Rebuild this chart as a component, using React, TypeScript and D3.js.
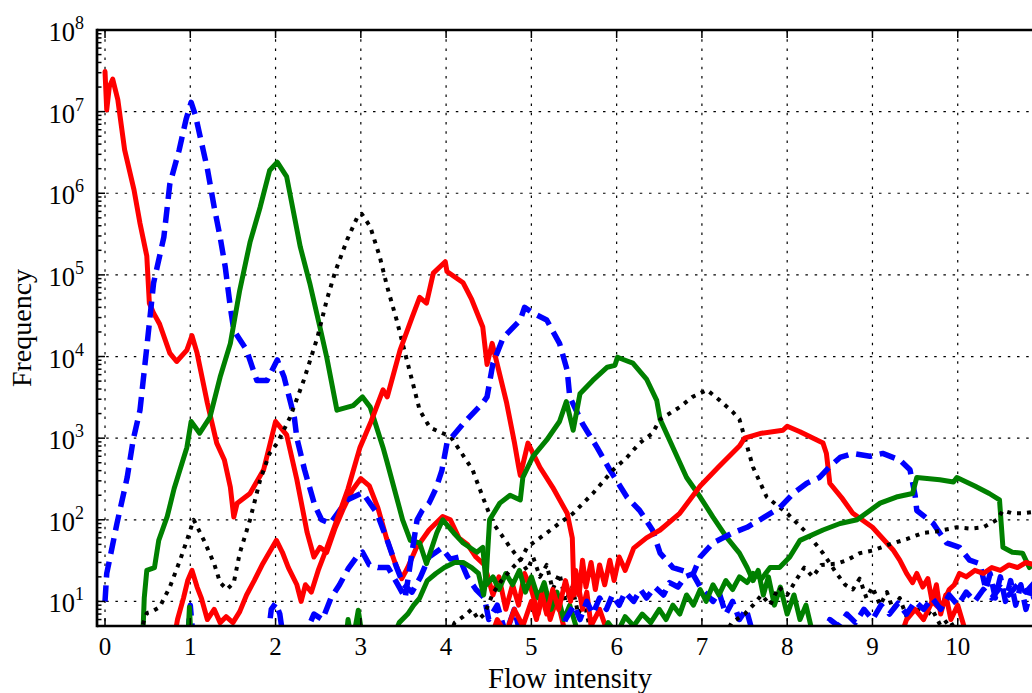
import React from 'react'
import * as d3 from 'd3'

type Pt = [number, number]

// axis ticks
const xTickValues = [0, 1, 2, 3, 4, 5, 6, 7, 8, 9, 10]
const yExponents = [1, 2, 3, 4, 5, 6, 7, 8]

// histogram curves: [flow intensity, frequency]
const red0: Pt[] = [[0, 3.1e7], [0.02, 1.05e7], [0.05, 2.0e7], [0.09, 2.5e7], [0.15, 1.4e7], [0.23, 3.4e6], [0.34, 1.1e6], [0.41, 4.3e5], [0.49, 1.7e5], [0.52, 4.5e4], [0.57, 3.4e4], [0.64, 2.5e4], [0.76, 1.1e4], [0.84, 8.7e3], [0.96, 1.2e4], [1.02, 1.8e4], [1.08, 1.1e4], [1.2, 2.7e3], [1.31, 8.7e2], [1.4, 5.4e2], [1.47, 2.5e2], [1.51, 1.08e2], [1.55, 1.6e2], [1.7, 2.1e2], [1.86, 4.1e2], [2.0, 1.6e3], [2.13, 1.1e3], [2.25, 3.1e2], [2.37, 7e1], [2.45, 3.5e1], [2.52, 4.6e1], [2.6, 4e1], [2.7, 8e1], [2.8, 1.4e2], [2.9, 2.3e2], [3.0, 3.2e2], [3.1, 2.6e2], [3.2, 1.4e2], [3.3, 6e1], [3.4, 3e1], [3.48, 1.9e1], [3.55, 2.6e1], [3.65, 4.5e1], [3.8, 7.5e1], [3.96, 1.1e2], [4.05, 1e2], [4.15, 6e1], [4.25, 5e1], [4.35, 3.5e1], [4.45, 2.8e1], [4.55, 1.2e1], [4.62, 2e1], [4.7, 8], [4.78, 1.6e1], [4.85, 9], [4.92, 2.2e1], [5.0, 1.4e1], [5.08, 7], [5.15, 1.5e1], [5.22, 6], [5.3, 1.1e1], [5.4, 4], [5.5, 3]]
const blue1: Pt[] = [[0, 1e1], [0.02, 2.2e1], [0.06, 3.5e1], [0.14, 9e1], [0.26, 3.3e2], [0.33, 9.5e2], [0.41, 2.2e3], [0.49, 1.3e4], [0.57, 8e4], [0.69, 2.9e5], [0.76, 1.3e6], [0.87, 3.4e6], [0.95, 8e6], [1.01, 1.3e7], [1.06, 9e6], [1.2, 2e6], [1.28, 6.8e5], [1.35, 2.9e5], [1.41, 1.25e5], [1.47, 4e4], [1.51, 2.1e4], [1.66, 1.2e4], [1.78, 5.1e3], [1.9, 5.1e3], [2.02, 9.1e3], [2.1, 5.6e3], [2.22, 1.8e3], [2.25, 1e3], [2.34, 4.1e2], [2.46, 1.5e2], [2.54, 1e2], [2.64, 9e1], [2.84, 1.75e2], [3.02, 2.15e2], [3.19, 1.2e2], [3.31, 5.6e1], [3.42, 2.6e1], [3.5, 1.6e1], [3.6, 1.3e1], [3.7, 2e1], [3.8, 3.5e1], [3.95, 4.5e1], [4.05, 3.3e1], [4.15, 3.5e1], [4.25, 2e1], [4.35, 1.4e1], [4.45, 1.1e1], [4.5, 6], [4.6, 9], [4.7, 4], [4.8, 8], [4.9, 3]]
const green2: Pt[] = [[0.44, 3], [0.46, 1.1e1], [0.49, 2.4e1], [0.58, 2.6e1], [0.63, 5.6e1], [0.73, 1.1e2], [0.81, 2.4e2], [0.96, 7.7e2], [1.01, 1.6e3], [1.11, 1.15e3], [1.23, 1.8e3], [1.35, 5.6e3], [1.47, 1.45e4], [1.58, 6.5e4], [1.7, 2.5e5], [1.82, 6.8e5], [1.93, 1.9e6], [2.02, 2.4e6], [2.13, 1.6e6], [2.29, 2.2e5], [2.4, 8e4], [2.52, 2.3e4], [2.6, 9.8e3], [2.72, 2.2e3], [2.91, 2.5e3], [3.02, 3.2e3], [3.11, 2.4e3], [3.26, 7.7e2], [3.31, 5e2], [3.49, 1e2], [3.58, 5.6e1], [3.69, 5.2e1], [3.77, 2.9e1], [3.89, 6.9e1], [3.96, 1e2], [4.09, 6.9e1], [4.2, 5.2e1], [4.36, 4e1], [4.43, 4.6e1], [4.47, 1.6e1], [4.55, 2e1], [4.62, 1.4e1], [4.7, 2.2e1], [4.78, 1.6e1], [4.86, 2.4e1], [4.93, 1.3e1], [5.0, 2e1], [5.08, 1.1e1], [5.15, 1.7e1], [5.23, 8], [5.3, 1.3e1], [5.38, 6], [5.45, 9], [5.55, 4]]
const black3: Pt[] = [[0.4, 3], [0.45, 5.5], [0.49, 7.2], [0.55, 7.5], [0.64, 8.5], [0.76, 1.5e1], [0.88, 3.2e1], [0.96, 5.6e1], [1.04, 1e2], [1.16, 5.6e1], [1.28, 2.9e1], [1.35, 1.7e1], [1.43, 1.4e1], [1.51, 1.7e1], [1.58, 3.9e1], [1.7, 1e2], [1.82, 3.1e2], [1.93, 6.5e2], [2.02, 8.7e2], [2.17, 1.8e3], [2.33, 5.1e3], [2.49, 1.7e4], [2.6, 4.9e4], [2.7, 1.1e5], [2.84, 2.7e5], [2.97, 5.4e5], [3.01, 5.6e5], [3.11, 3.9e5], [3.22, 1.7e5], [3.31, 7.1e4], [3.42, 2.8e4], [3.54, 9e3], [3.61, 4.7e3], [3.69, 2.2e3], [3.81, 1.35e3], [3.96, 1.15e3], [4.05, 1.05e3], [4.16, 7.1e2], [4.31, 4.1e2], [4.43, 1.9e2], [4.55, 9.1e1], [4.67, 6.1e1], [4.75, 4.6e1], [4.87, 3.2e1], [4.95, 2.4e1], [5.02, 3.5e1], [5.1, 2e1], [5.18, 2.8e1], [5.25, 1.4e1], [5.33, 2.2e1], [5.4, 1e1], [5.48, 1.5e1], [5.55, 7], [5.62, 1e1], [5.7, 4]]
const red4: Pt[] = [[0.8, 3], [0.85, 6], [0.92, 1.1e1], [0.97, 1.8e1], [1.02, 2.4e1], [1.08, 1.5e1], [1.13, 1.1e1], [1.2, 6], [1.28, 8], [1.35, 5.5], [1.42, 6.5], [1.5, 5.5], [1.58, 7.5], [1.66, 1.2e1], [1.75, 1.8e1], [1.85, 2.9e1], [1.94, 4.2e1], [2.01, 5.6e1], [2.08, 4e1], [2.15, 2.6e1], [2.25, 1.6e1], [2.3, 1e1], [2.35, 1.6e1], [2.42, 1.3e1], [2.5, 2.4e1], [2.6, 4.5e1], [2.72, 1e2], [2.85, 2.4e2], [2.99, 7.7e2], [3.12, 1.6e3], [3.26, 3.9e3], [3.31, 3.2e3], [3.46, 1.2e4], [3.6, 3e4], [3.69, 5.3e4], [3.77, 4.5e4], [3.85, 1.05e5], [3.99, 1.45e5], [4.01, 1.1e5], [4.2, 8e4], [4.3, 5e4], [4.43, 2.3e4], [4.48, 8e3], [4.54, 1.45e4], [4.71, 2.7e3], [4.8, 9e2], [4.85, 4.5e2], [4.87, 3.5e2], [4.96, 8.7e2], [5.1, 4.4e2], [5.25, 2.5e2], [5.42, 1.2e2], [5.48, 6e1], [5.5, 1.2e1], [5.55, 1.6e1], [5.6, 8], [5.65, 1.3e1], [5.7, 5], [5.8, 8], [5.9, 4]]
const blue5: Pt[] = [[0.95, 2], [1.0, 9], [1.04, 3], [1.9, 3], [1.95, 8], [2.0, 9.5], [2.05, 7], [2.1, 3], [2.35, 4], [2.45, 7], [2.55, 6], [2.65, 1.1e1], [2.75, 1.6e1], [2.85, 2.5e1], [2.95, 3.5e1], [3.02, 4e1], [3.1, 2.8e1], [3.2, 2.6e1], [3.32, 2.6e1], [3.45, 1.5e1], [3.52, 1.1e1], [3.6, 4e1], [3.66, 1e2], [3.72, 1.3e2], [3.8, 1.6e2], [3.88, 2.4e2], [3.95, 4e2], [4.01, 8.7e2], [4.2, 1.5e3], [4.43, 2.7e3], [4.48, 3.2e3], [4.55, 8.3e3], [4.67, 1.7e4], [4.87, 2.8e4], [4.92, 4e4], [5.02, 3.4e4], [5.18, 2.8e4], [5.33, 1.45e4], [5.42, 6.8e3], [5.45, 3.2e3], [5.6, 1.5e3], [5.77, 7.7e2], [5.92, 4.1e2], [6.12, 1.9e2], [6.27, 1.3e2], [6.42, 7.5e1], [6.51, 3.9e1], [6.66, 2.6e1], [6.89, 2.2e1], [6.98, 1.5e1], [7.13, 1e1], [7.2, 1.3e1], [7.28, 7], [7.36, 1e1], [7.44, 6], [7.52, 8], [7.6, 4]]
const green6: Pt[] = [[0.96, 2], [0.99, 8.5], [1.02, 2], [2.8, 2], [2.85, 6], [2.9, 3], [2.97, 7.8], [3.03, 3], [3.35, 3], [3.45, 5.5], [3.55, 7], [3.62, 9], [3.69, 1.1e1], [3.78, 1.8e1], [3.88, 2.2e1], [3.98, 2.6e1], [4.1, 3e1], [4.2, 3e1], [4.3, 2.6e1], [4.38, 2.2e1], [4.44, 1.2e1], [4.47, 2e1], [4.51, 1e2], [4.63, 1.6e2], [4.75, 2e2], [4.87, 1.75e2], [4.9, 3.3e2], [5.02, 6e2], [5.18, 9.5e2], [5.33, 1.6e3], [5.41, 2.8e3], [5.49, 1.25e3], [5.57, 3.5e3], [5.72, 5.1e3], [5.89, 7.4e3], [5.98, 7.8e3], [6.01, 9.8e3], [6.1, 9e3], [6.19, 8.3e3], [6.35, 5.3e3], [6.47, 2.9e3], [6.51, 1.7e3], [6.66, 7.7e2], [6.82, 3.3e2], [6.98, 1.9e2], [7.13, 1.08e2], [7.29, 6.1e1], [7.44, 3.9e1], [7.53, 2.6e1], [7.6, 1.8e1], [7.66, 2.4e1], [7.72, 1.2e1], [7.78, 2e1], [7.85, 9], [7.92, 1.5e1], [8.0, 7], [8.08, 1.2e1], [8.15, 6], [8.22, 9], [8.3, 4]]
const black7: Pt[] = [[4.0, 3], [4.1, 5.5], [4.2, 6.5], [4.3, 8], [4.38, 6], [4.45, 7], [4.55, 1.26e1], [4.65, 1.8e1], [4.78, 2.6e1], [4.88, 3.3e1], [4.95, 4.6e1], [5.05, 5.5e1], [5.18, 6.9e1], [5.33, 9.1e1], [5.49, 1.2e2], [5.72, 2.1e2], [5.96, 4.1e2], [6.12, 5.8e2], [6.27, 8.7e2], [6.42, 1.15e3], [6.51, 1.7e3], [6.74, 2.4e3], [6.89, 3.2e3], [7.06, 3.9e3], [7.21, 2.9e3], [7.36, 2.1e3], [7.44, 1.7e3], [7.6, 4.4e2], [7.76, 1.9e2], [8.0, 1.2e2], [8.23, 6.9e1], [8.42, 3.9e1], [8.58, 2.2e1], [8.68, 1.6e1], [8.77, 1.4e1], [8.85, 1.9e1], [8.93, 1.1e1], [9.0, 1.5e1], [9.09, 9], [9.17, 1.3e1], [9.24, 8], [9.32, 1.1e1], [9.4, 6.5], [9.5, 9], [9.6, 6], [9.7, 8], [9.8, 5], [9.9, 6], [10.0, 4]]
const red8: Pt[] = [[4.5, 3], [4.6, 6], [4.7, 4], [4.8, 8], [4.9, 5], [5.0, 1e1], [5.06, 6], [5.12, 1.2e1], [5.18, 7], [5.25, 1.4e1], [5.32, 8], [5.4, 1.8e1], [5.46, 1e1], [5.52, 2.4e1], [5.56, 1.2e1], [5.6, 3.2e1], [5.64, 1.5e1], [5.7, 3e1], [5.75, 1.4e1], [5.8, 2.8e1], [5.86, 1.6e1], [5.92, 3.2e1], [5.97, 1.8e1], [6.03, 3.5e1], [6.1, 2.4e1], [6.2, 4.5e1], [6.35, 6e1], [6.51, 7.5e1], [6.74, 1.2e2], [6.98, 2.6e2], [7.2, 4.5e2], [7.44, 8e2], [7.5, 1e3], [7.7, 1.15e3], [7.95, 1.25e3], [8.0, 1.4e3], [8.15, 1.2e3], [8.42, 8.7e2], [8.46, 6.5e2], [8.5, 2.8e2], [8.65, 1.8e2], [8.77, 1.2e2], [9.0, 8.1e1], [9.24, 4.3e1], [9.32, 3.2e1], [9.4, 2.2e1], [9.47, 1.7e1], [9.52, 2.2e1], [9.59, 1.5e1], [9.65, 1.9e1], [9.7, 1e1], [9.75, 1.6e1], [9.8, 7], [9.86, 1.2e1], [9.92, 6], [10.0, 9], [10.1, 4]]
const blue9: Pt[] = [[5.3, 3], [5.4, 6], [5.5, 9], [5.57, 6], [5.65, 1e1], [5.72, 7], [5.8, 1.1e1], [5.88, 8], [5.95, 1.2e1], [6.03, 9], [6.1, 1.3e1], [6.2, 1e1], [6.28, 1.4e1], [6.35, 1.1e1], [6.45, 1.5e1], [6.55, 1.2e1], [6.62, 1.7e1], [6.72, 1.5e1], [6.8, 2e1], [6.9, 2.2e1], [6.98, 3.5e1], [7.13, 5.2e1], [7.36, 6.9e1], [7.53, 8.1e1], [7.68, 1e2], [7.91, 1.4e2], [8.07, 2.1e2], [8.23, 2.8e2], [8.38, 3.3e2], [8.5, 4.5e2], [8.62, 5.8e2], [8.77, 6.5e2], [8.97, 6e2], [9.12, 6.5e2], [9.32, 5.4e2], [9.44, 4.1e2], [9.5, 2e2], [9.52, 1.3e2], [9.71, 9.1e1], [9.87, 5.2e1], [10.02, 4.6e1], [10.14, 3.2e1], [10.26, 2.9e1], [10.33, 1.4e1], [10.38, 2.2e1], [10.44, 1.1e1], [10.5, 2e1], [10.56, 1e1], [10.62, 1.8e1], [10.68, 9], [10.74, 1.6e1], [10.8, 8], [10.86, 1.4e1], [10.92, 9], [11.0, 1.2e1]]
const green10: Pt[] = [[5.8, 3], [5.9, 5.5], [6.0, 4], [6.1, 6.5], [6.2, 5], [6.3, 7], [6.4, 5.5], [6.5, 8], [6.58, 6], [6.66, 9], [6.74, 7], [6.82, 1.2e1], [6.9, 9], [6.98, 1.4e1], [7.05, 1e1], [7.13, 1.6e1], [7.2, 1.2e1], [7.28, 1.8e1], [7.36, 1.4e1], [7.44, 2e1], [7.53, 1.7e1], [7.6, 2.2e1], [7.7, 1.9e1], [7.8, 2.6e1], [7.91, 2.6e1], [8.03, 3.5e1], [8.15, 5.6e1], [8.42, 7.5e1], [8.62, 9e1], [8.82, 1e2], [9.09, 1.6e2], [9.28, 1.9e2], [9.47, 2.1e2], [9.52, 3.3e2], [9.79, 3.1e2], [9.95, 2.9e2], [9.99, 3.3e2], [10.2, 2.6e2], [10.37, 2.1e2], [10.49, 1.75e2], [10.53, 4.6e1], [10.64, 4e1], [10.76, 3.9e1], [10.84, 2.6e1], [10.9, 3e1], [11.0, 2.2e1]]
const black11: Pt[] = [[7.2, 3], [7.35, 5.5], [7.5, 7], [7.6, 9], [7.7, 1.2e1], [7.8, 9], [7.9, 1.5e1], [8.0, 1.2e1], [8.1, 1.8e1], [8.2, 2.6e1], [8.3, 2e1], [8.4, 2.8e1], [8.58, 2.9e1], [8.7, 3.2e1], [8.85, 3.9e1], [9.0, 4.2e1], [9.2, 5e1], [9.4, 5.8e1], [9.59, 6.9e1], [9.75, 7.2e1], [9.99, 8.1e1], [10.15, 7.8e1], [10.3, 8.1e1], [10.46, 1e2], [10.53, 1.3e2], [10.64, 1.2e2], [10.76, 1.2e2], [10.9, 1.25e2], [11.0, 1.3e2]]
const red12: Pt[] = [[9.3, 3], [9.4, 6], [9.5, 8], [9.6, 6], [9.7, 1e1], [9.8, 8], [9.9, 1.4e1], [9.96, 1.6e1], [10.02, 2.2e1], [10.1, 2e1], [10.2, 2.4e1], [10.3, 2.2e1], [10.4, 2.6e1], [10.5, 2.4e1], [10.6, 2.8e1], [10.7, 2.6e1], [10.8, 3e1], [10.9, 2.8e1], [11.0, 3e1]]
const blue13: Pt[] = [[8.4, 3], [8.5, 6], [8.6, 5], [8.7, 7], [8.8, 5.5], [8.9, 8], [9.0, 6], [9.1, 9], [9.2, 7], [9.3, 9.5], [9.4, 7], [9.5, 1e1], [9.6, 8], [9.7, 1.1e1], [9.8, 8], [9.9, 1.2e1], [10.0, 9], [10.1, 1.3e1], [10.2, 1e1], [10.3, 1.4e1], [10.4, 1.1e1], [10.5, 1.5e1], [10.6, 1.2e1], [10.7, 1.6e1], [10.8, 1.3e1], [10.9, 1.7e1], [11.0, 1.5e1]]

// matplotlib-like style cycle: red solid, blue dashed, green solid, black dotted
const lineStyles = {
    red: { stroke: '#ff0000', width: 5, dash: undefined as string | undefined },
    blue: { stroke: '#0000ff', width: 5.5, dash: '16,8' },
    green: { stroke: '#008000', width: 5, dash: undefined as string | undefined },
    black: { stroke: '#000000', width: 4, dash: '4,6' },
}
const curves: { data: Pt[], style: keyof typeof lineStyles }[] = [
    { data: red0, style: 'red' },
    { data: blue1, style: 'blue' },
    { data: green2, style: 'green' },
    { data: black3, style: 'black' },
    { data: red4, style: 'red' },
    { data: blue5, style: 'blue' },
    { data: green6, style: 'green' },
    { data: black7, style: 'black' },
    { data: red8, style: 'red' },
    { data: blue9, style: 'blue' },
    { data: green10, style: 'green' },
    { data: black11, style: 'black' },
    { data: red12, style: 'red' },
    { data: blue13, style: 'blue' },
]

const width = 1032
const height = 693
const margin = { top: 30, right: -11, bottom: 67, left: 97 }
const font = "'Liberation Serif', 'Times New Roman', serif"

export default function App() {
    const x = d3.scaleLinear()
        .domain([-0.094, 11])
        .range([margin.left, width - margin.right])
    const y = d3.scaleLog()
        .domain([5, 1e8])
        .range([height - margin.bottom, margin.top])

    const line = d3.line<Pt>()
        .x(d => x(d[0]))
        .y(d => y(Math.max(d[1], 1)))

    const x0 = margin.left
    const x1 = width - margin.right
    const y0 = height - margin.bottom
    const y1 = margin.top

    // minor log ticks, 2..9 per decade inside the domain
    const minorTicks: number[] = []
    for (let e = 0; e < 8; e++) {
        for (let k = 2; k <= 9; k++) {
            const v = k * Math.pow(10, e)
            if (v >= 5 && v < 1e8) minorTicks.push(v)
        }
    }

    return (
        <svg width={width} height={height} viewBox={`0 0 ${width} ${height}`}
            style={{ position: 'absolute', left: 0, top: 0, background: '#fff' }}>
            <defs>
                <clipPath id="plot-clip">
                    <rect x={x0} y={y1} width={x1 - x0} height={y0 - y1} />
                </clipPath>
            </defs>

            {/* grid */}
            <g stroke="#000" strokeWidth={1.2} strokeDasharray="2.5,6.7">
                {xTickValues.map(t => (
                    <line key={'gx' + t} x1={x(t)} x2={x(t)} y1={y1} y2={y0} />
                ))}
                {yExponents.slice(0, -1).map(e => (
                    <line key={'gy' + e} x1={x0} x2={x1} y1={y(Math.pow(10, e))} y2={y(Math.pow(10, e))} />
                ))}
            </g>

            {/* curves */}
            <g clipPath="url(#plot-clip)" fill="none">
                {curves.map((c, i) => {
                    const s = lineStyles[c.style]
                    return (
                        <path key={i} d={line(c.data) || ''}
                            stroke={s.stroke} strokeWidth={s.width}
                            strokeDasharray={s.dash}
                            strokeLinejoin="round" strokeLinecap={s.dash ? 'butt' : 'round'} />
                    )
                })}
            </g>

            {/* ticks */}
            <g stroke="#000" strokeWidth={1.5}>
                {xTickValues.map(t => (
                    <g key={'tx' + t}>
                        <line x1={x(t)} x2={x(t)} y1={y0} y2={y0 - 8} />
                        <line x1={x(t)} x2={x(t)} y1={y1} y2={y1 + 8} />
                    </g>
                ))}
                {yExponents.map(e => (
                    <line key={'ty' + e} x1={x0} x2={x0 + 8} y1={y(Math.pow(10, e))} y2={y(Math.pow(10, e))} />
                ))}
                {minorTicks.map(v => (
                    <line key={'mt' + v} x1={x0} x2={x0 + 4.5} y1={y(v)} y2={y(v)} />
                ))}
            </g>

            {/* spines */}
            <g stroke="#000" strokeWidth={2.7} fill="none">
                <line x1={x0} x2={x1} y1={y1} y2={y1} />
                <line x1={x0} x2={x1} y1={y0} y2={y0} />
                <line x1={x0} x2={x0} y1={y1 - 1.3} y2={y0 + 1.3} />
            </g>

            {/* tick labels */}
            <g fontFamily={font} fill="#000">
                {xTickValues.map(t => (
                    <text key={'lx' + t} x={x(t)} y={y0 + 29} fontSize={25} textAnchor="middle">{t}</text>
                ))}
                {yExponents.map(e => (
                    <text key={'ly' + e} x={84} y={y(Math.pow(10, e)) + 11} fontSize={26.5} textAnchor="end">
                        10<tspan dy={-12} fontSize={18}>{e}</tspan>
                    </text>
                ))}
            </g>

            {/* axis labels */}
            <text x={(x0 + x1) / 2} y={688} fontFamily={font} fontSize={28.5} textAnchor="middle">Flow intensity</text>
            <text transform={`translate(31,${(y0 + y1) / 2}) rotate(-90)`} fontFamily={font} fontSize={28} textAnchor="middle">Frequency</text>
        </svg>
    )
}
